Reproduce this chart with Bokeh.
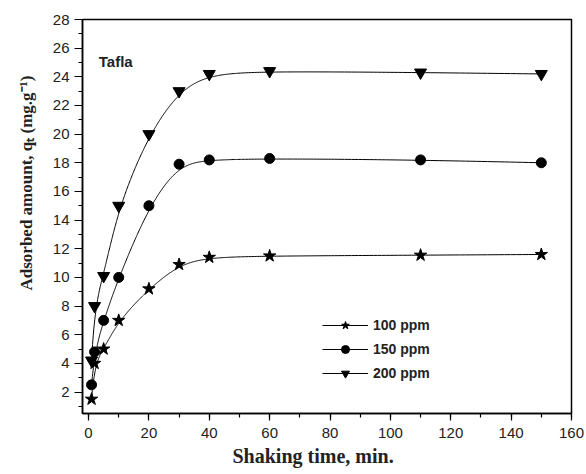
import numpy as np
from bokeh.plotting import figure
from bokeh.models import Range1d, Legend, LegendItem, FixedTicker, Label, Title
from bokeh.embed import file_html
from bokeh.resources import INLINE

time = [1, 2, 5, 10, 20, 30, 40, 60, 110, 150]
q_100 = [1.5, 4.0, 5.0, 7.0, 9.2, 10.9, 11.4, 11.5, 11.55, 11.6]
q_150 = [2.5, 4.8, 7.0, 10.0, 15.0, 17.9, 18.2, 18.3, 18.2, 18.0]
q_200 = [4.2, 8.0, 10.1, 15.0, 20.0, 23.0, 24.2, 24.4, 24.3, 24.2]
series_labels = ["100 ppm", "150 ppm", "200 ppm"]
x_ticks = [0, 20, 40, 60, 80, 100, 120, 140, 160]
y_ticks = [2, 4, 6, 8, 10, 12, 14, 16, 18, 20, 22, 24, 26, 28]


def bspline(xs, ys, samples=400):
    """Clamped cubic B-spline through control points (rendering only)."""
    P = np.column_stack([xs, ys]).astype(float)
    n = len(P)
    k = 3
    knots = np.concatenate([np.zeros(k), np.arange(0, n - k + 1), np.full(k, n - k)]).astype(float)
    us = np.linspace(0, n - k, samples)
    out = []
    for u in us:
        if u >= knots[n]:
            s = n - 1
        else:
            s = np.searchsorted(knots, u, side="right") - 1
        d = [P[j + s - k].copy() for j in range(k + 1)]
        for r in range(1, k + 1):
            for j in range(k, r - 1, -1):
                i = j + s - k
                denom = knots[i + k - r + 1] - knots[i]
                a = 0.0 if denom == 0 else (u - knots[i]) / denom
                d[j] = (1 - a) * d[j - 1] + a * d[j]
        out.append(d[k])
    out = np.array(out)
    return out[:, 0], out[:, 1]


p = figure(width=586, height=474, output_backend="svg", toolbar_location=None,
           x_range=Range1d(-2, 160), y_range=Range1d(0.5, 28),
           min_border_left=82, min_border_right=15, min_border_top=19, min_border_bottom=61)
p.xgrid.visible = False
p.ygrid.visible = False
p.outline_line_color = "black"
p.outline_line_width = 1.5

for ax in (p.xaxis[0], p.yaxis[0]):
    ax.axis_line_width = 1.5
    ax.major_tick_line_width = 1.2
    ax.minor_tick_line_width = 1.2
    ax.major_tick_in = 0
    ax.minor_tick_in = 0
    ax.major_label_text_font = "Liberation Sans"
    ax.major_label_text_font_size = "15px"
    ax.major_label_text_color = "#222222"

p.xaxis.ticker = FixedTicker(ticks=x_ticks, minor_ticks=list(range(0, 161, 10)))
p.yaxis.ticker = FixedTicker(ticks=y_ticks, minor_ticks=list(range(1, 29)))
p.xaxis.major_tick_out = 7
p.xaxis.minor_tick_out = 4
p.yaxis.major_tick_out = 8
p.yaxis.minor_tick_out = 4
p.xaxis.major_label_standoff = 7
p.yaxis.major_label_standoff = 5

items = []
for ys, marker, size, lab in [(q_100, "star", 13, series_labels[0]),
                              (q_150, "circle", 10, series_labels[1]),
                              (q_200, "inverted_triangle", 12, series_labels[2])]:
    cx, cy = bspline(time, ys)
    l = p.line(cx, cy, line_color="black", line_width=1)
    s = p.scatter(time, ys, marker=marker, size=size, fill_color="black", line_color="black")
    items.append(LegendItem(label=lab, renderers=[l, s]))

legend = Legend(items=items, location=(240, 30), glyph_width=46, glyph_height=20,
                spacing=4, padding=0, margin=0, label_standoff=5,
                label_text_font="Liberation Sans", label_text_font_style="bold",
                label_text_font_size="14px", label_text_color="#222222",
                border_line_color=None, background_fill_alpha=0)
p.add_layout(legend)

p.add_layout(Label(x=9, y=25.1, text="Tafla",
                   text_font="Liberation Sans", text_font_style="bold", text_font_size="15px",
                   text_color="#222222", text_align="center", text_baseline="middle"))

# axis titles
xt = Title(text="Shaking time, min.", align="left", offset=150, standoff=5,
           text_font="Liberation Serif", text_font_style="bold", text_font_size="20px",
           text_color="#222222")
p.add_layout(xt, "below")
yt = Title(text="Adsorbed amount, q\u209c (mg.g\u207b\u00b9)", align="left", offset=123, standoff=28,
           text_font="Liberation Serif", text_font_style="bold", text_font_size="17px",
           text_color="#222222")
p.add_layout(yt, "left")

open("out.html", "w").write(file_html(p, INLINE))
